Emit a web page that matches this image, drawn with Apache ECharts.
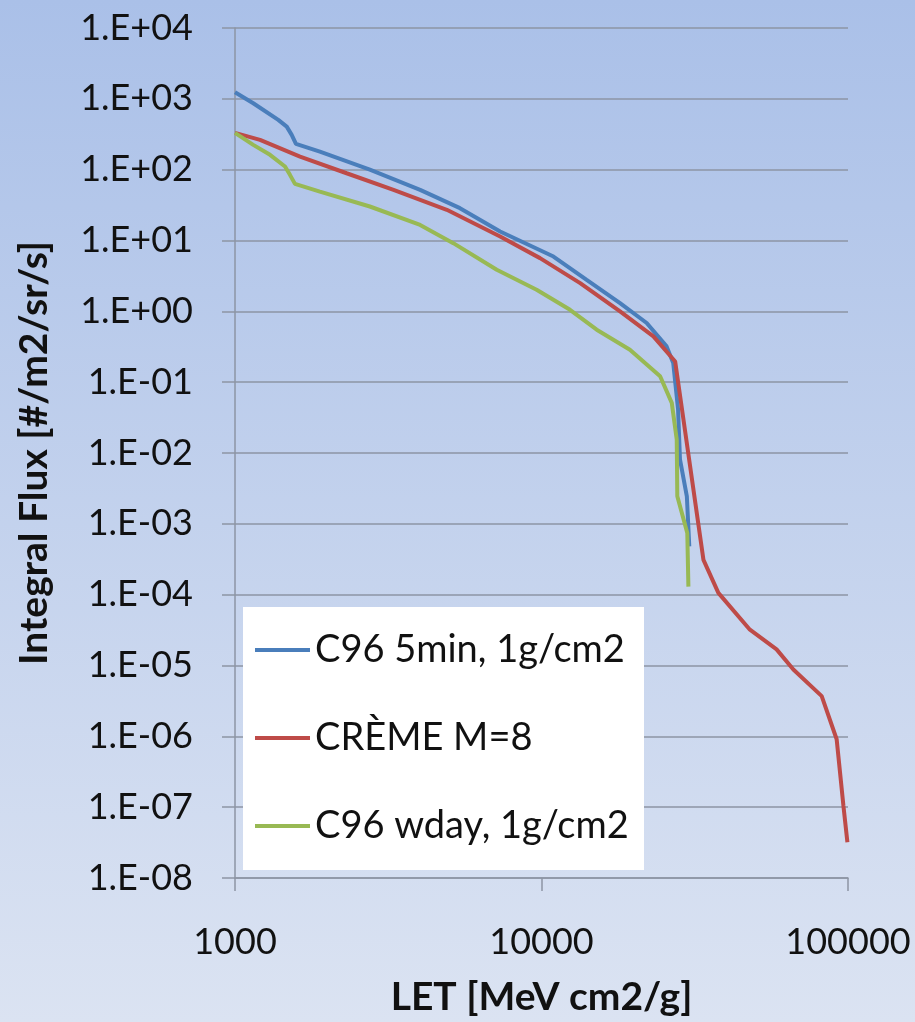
<!DOCTYPE html>
<html>
<head>
<meta charset="utf-8">
<script src="https://cdn.jsdelivr.net/npm/echarts@6/dist/echarts.min.js"></script>
<style>
html,body{margin:0;padding:0;}
#chart{width:915px;height:1022px;}
</style>
</head>
<body>
<div id="chart"></div>
<script>
// ---- data ----
const seriesNames = ["C96 5min, 1g/cm2", "CRÈME M=8", "C96 wday, 1g/cm2"];

const c96MinLET  = [1000, 1147, 1384, 1475, 1531, 1581, 1892, 2754, 4018, 5420, 7330, 10940, 14040, 18040, 22040, 25600, 26900, 27900, 28300, 29800, 30350];
const c96MinFlux = [1240, 867, 504, 405, 310, 231, 180, 100, 51.9, 28.6, 13.4, 5.94, 2.79, 1.31, 0.684, 0.32, 0.187, 0.041, 0.0081, 0.00245, 0.00048];

const cremeLET  = [1000, 1207, 1630, 2313, 3290, 4910, 7330, 9890, 13370, 18040, 23180, 27300, 33760, 37760, 47860, 58480, 66330, 82080, 91830, 96630, 99560];
const cremeFlux = [330, 263, 153, 89, 51.9, 27.1, 11.4, 5.64, 2.50, 1.0, 0.443, 0.196, 3.1e-4, 1.06e-4, 3.2e-5, 1.69e-5, 8.8e-6, 3.7e-6, 9.1e-7, 1.04e-7, 3.2e-8];

const c96DayLET  = [1000, 1147, 1301, 1456, 1511, 1569, 1892, 2754, 4018, 5155, 7145, 9640, 12390, 15140, 19430, 24380, 26610, 27620, 27740, 29900, 30150];
const c96DayFlux = [330, 224, 162, 111, 84.5, 63, 49.1, 30.2, 16.6, 9.18, 3.86, 2.02, 1.05, 0.55, 0.287, 0.121, 0.051, 0.0155, 0.00245, 0.00074, 0.00013];

const xTitle = "LET [MeV cm2/g]";
const yTitle = "Integral Flux [#/m2/sr/s]";

// ---- chart ----
function pairs(xs, ys) { return xs.map((x, i) => [x, ys[i]]); }
function sci(v) {
  const e = Math.round(Math.log10(v));
  const s = e < 0 ? "-" : "+";
  const a = Math.abs(e);
  return "1.E" + s + (a < 10 ? "0" + a : String(a));
}

const FONT = "Lato";
const chart = echarts.init(document.getElementById('chart'), null, {renderer: 'canvas'});
const gridColor = '#8d95a4';

chart.setOption({
  animation: false,
  backgroundColor: {
    type: 'linear', x: 0, y: 0, x2: 0, y2: 1,
    colorStops: [{offset: 0, color: '#aac0e8'}, {offset: 1, color: '#dbe3f2'}]
  },
  textStyle: {fontFamily: FONT},
  grid: {left: 235, right: 67, top: 28, bottom: 143, containLabel: false},
  graphic: [{
    type: 'rect', left: 243, top: 607, z: 50,
    shape: {width: 401, height: 263},
    style: {fill: '#ffffff'}
  }],
  legend: {
    orient: 'vertical', left: 243, top: 607, z: 60,
    padding: [23, 12, 24, 12],
    itemGap: 48,
    itemWidth: 55, itemHeight: 4,
    icon: 'rect',
    data: seriesNames,
    textStyle: {fontFamily: FONT, fontSize: 38, color: '#111', lineHeight: 40}
  },
  xAxis: {
    type: 'log', logBase: 10, min: 1000, max: 100000,
    name: xTitle, nameLocation: 'middle', nameGap: 100,
    nameTextStyle: {fontFamily: FONT, fontSize: 39, fontWeight: 'bold', color: '#111'},
    axisLine: {show: true, lineStyle: {color: gridColor, width: 1.5}},
    axisTick: {show: true, length: 13, inside: false, lineStyle: {color: gridColor, width: 1.5}},
    axisLabel: {
      margin: 46, fontFamily: FONT, fontSize: 36, color: '#111',
      formatter: v => String(Math.round(v))
    },
    splitLine: {show: false},
    minorTick: {show: false}
  },
  yAxis: {
    type: 'log', logBase: 10, min: 1e-8, max: 1e4, interval: 1,
    name: yTitle, nameLocation: 'middle', nameGap: 181, nameRotate: 90,
    nameTextStyle: {fontFamily: FONT, fontSize: 39, fontWeight: 'bold', color: '#111'},
    axisLine: {show: true, lineStyle: {color: gridColor, width: 1.5}},
    axisTick: {show: true, length: 13, lineStyle: {color: gridColor, width: 1.5}},
    axisLabel: {margin: 42, fontFamily: FONT, fontSize: 36, color: '#111', formatter: v => sci(v)},
    splitLine: {show: true, lineStyle: {color: gridColor, width: 1.5}}
  },
  series: [
    {name: seriesNames[0], type: 'line', data: pairs(c96MinLET, c96MinFlux), showSymbol: false, symbol: 'none',
     lineStyle: {color: '#4a7ebb', width: 4}, itemStyle: {color: '#4a7ebb'}, z: 2},
    {name: seriesNames[1], type: 'line', data: pairs(cremeLET, cremeFlux), showSymbol: false, symbol: 'none',
     lineStyle: {color: '#be4b48', width: 4}, itemStyle: {color: '#be4b48'}, z: 3},
    {name: seriesNames[2], type: 'line', data: pairs(c96DayLET, c96DayFlux), showSymbol: false, symbol: 'none',
     lineStyle: {color: '#98b954', width: 4}, itemStyle: {color: '#98b954'}, z: 4}
  ]
});
</script>
</body>
</html>
